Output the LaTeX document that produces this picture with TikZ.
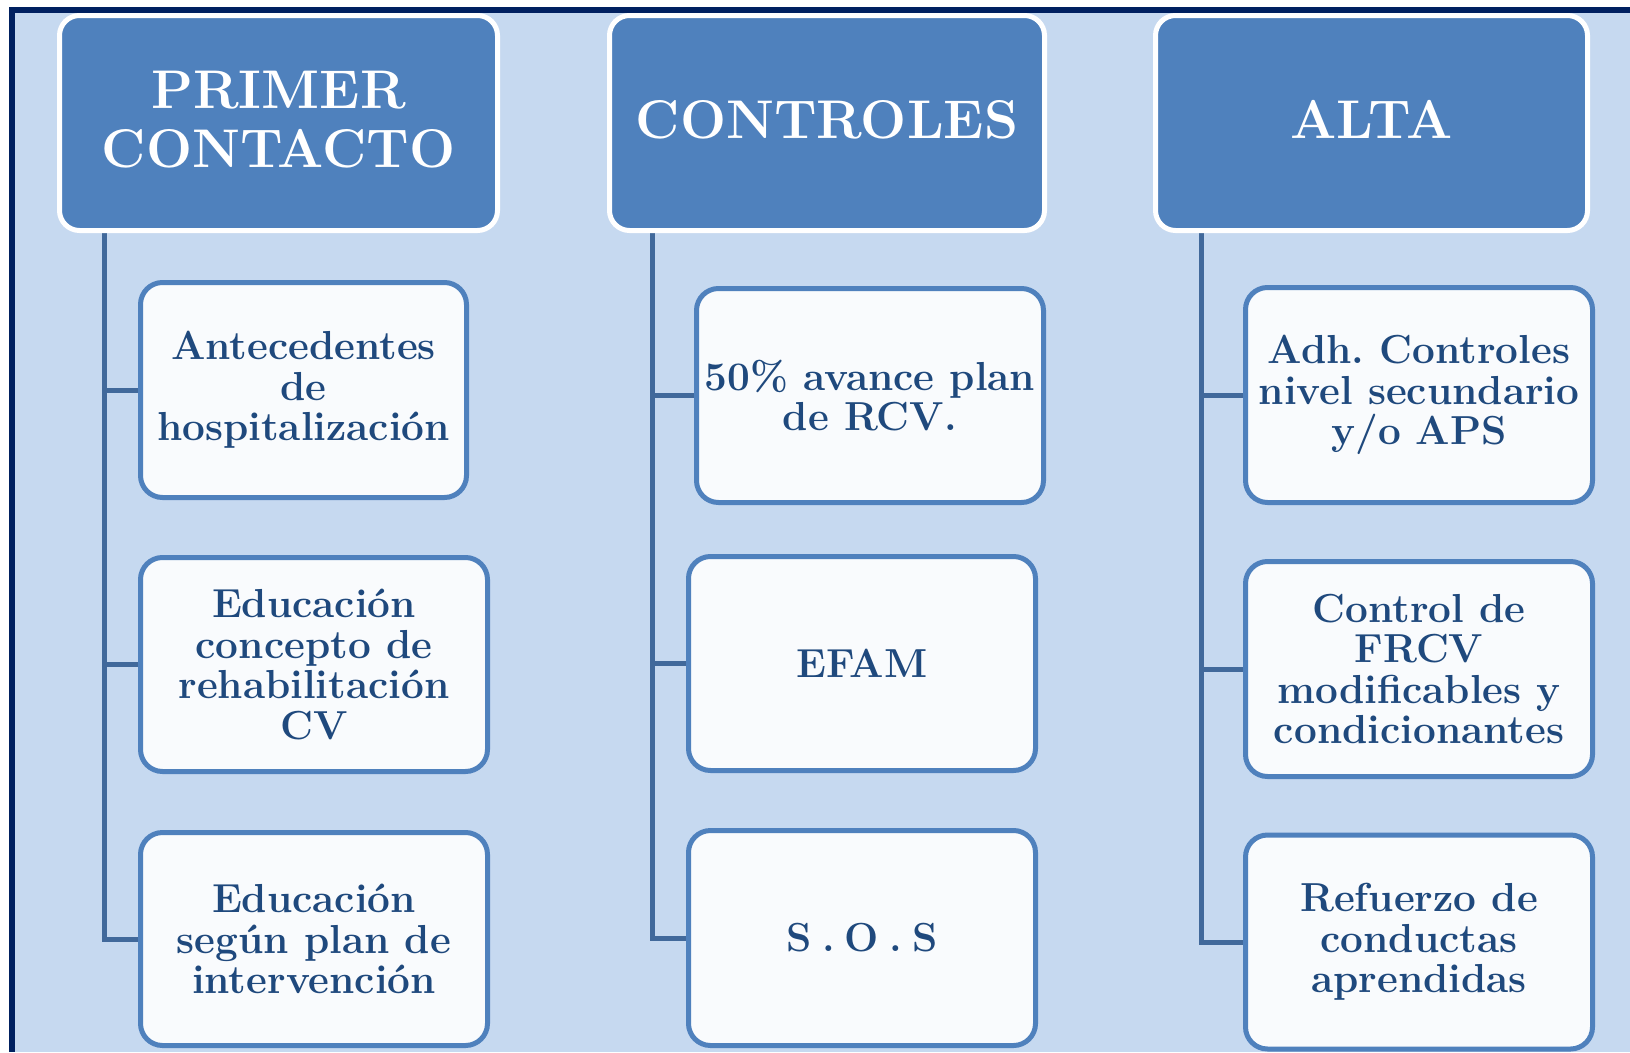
\documentclass[tikz,border=0pt]{standalone}
\usepackage{fontspec}
\usetikzlibrary{backgrounds}
\frenchspacing
\definecolor{bgblue}{HTML}{C6D9F0}
\definecolor{navy}{HTML}{002060}
\definecolor{headfill}{HTML}{4F81BD}
\definecolor{boxfill}{HTML}{F9FBFD}
\definecolor{linkcol}{HTML}{41699B}
\definecolor{txtcol}{HTML}{1F497D}
\newcommand{\sosgap}{\hspace{0.25em}}
\tikzset{
  header/.style={draw=white, line width=5pt, fill=headfill, rounded corners=20pt,
    inner sep=0pt, text=white, align=center, text depth=8pt,
    font=\bfseries\fontsize{54.5}{59}\selectfont},
  childbox/.style={draw=headfill, line width=5pt, fill=boxfill, rounded corners=22pt,
    inner sep=0pt, text=txtcol, align=center, minimum width=347pt, minimum height=214pt,
    font=\bfseries\fontsize{40.5}{40.5}\selectfont},
  link/.style={draw=linkcol, line width=5pt}
}
\begin{document}
\begin{tikzpicture}[x=1pt,y=-1pt]
\useasboundingbox (0,0) rectangle (1630,1052);
% headers
\node[header, minimum width=438pt, minimum height=215pt] (h1) at (278.5,123) {PRIMER\\CONTACTO};
\node[header, minimum width=435pt, minimum height=215pt] (h2) at (827,123) {CONTROLES};
\node[header, minimum width=432pt, minimum height=215pt] (h3) at (1371.5,123) {ALTA};
% column 1
\node[childbox, minimum width=326pt, minimum height=215pt] (c1a) at (303.5,390) {Antecedentes\\de\\hospitalización};
\node[childbox] (c1b) at (314,664.5) {Educación\\concepto de\\rehabilitación\\CV};
\node[childbox, minimum height=213pt] (c1c) at (314,939) {Educación\\según plan de\\intervención};
% column 2
\node[childbox] (c2a) at (870,395.5) {50\% avance plan\\de RCV.};
\node[childbox] (c2b) at (862,663.5) {EFAM};
\node[childbox, minimum height=215pt] (c2c) at (862,938) {S\sosgap.\sosgap O\sosgap.\sosgap S};
% column 3
\node[childbox, minimum height=215pt] (c3a) at (1419,395) {Adh. Controles\\nivel secundario\\y/o APS};
\node[childbox, minimum height=215pt] (c3b) at (1419,669) {Control de\\FRCV\\modificables y\\condicionantes};
\node[childbox] (c3c) at (1419,942) {Refuerzo de\\conductas\\aprendidas};
% trunk starts
\coordinate (t1) at (104,232);
\coordinate (t2) at (652,232);
\coordinate (t3) at (1201,232);
\begin{scope}[on background layer]
  \fill[white] (0,0) rectangle (1630,1052);
  \fill[bgblue] (12,10) rectangle (1630,1052);
  \draw[navy, line width=6pt] (9,10) -- (1630,10);
  \draw[navy, line width=6pt] (12,7) -- (12,1052);
  \draw[link] (t1) |- (c1c.west);
  \draw[link] (t1 |- c1a.west) -- (c1a.west);
  \draw[link] (t1 |- c1b.west) -- (c1b.west);
  \draw[link] (t2) |- (c2c.west);
  \draw[link] (t2 |- c2a.west) -- (c2a.west);
  \draw[link] (t2 |- c2b.west) -- (c2b.west);
  \draw[link] (t3) |- (c3c.west);
  \draw[link] (t3 |- c3a.west) -- (c3a.west);
  \draw[link] (t3 |- c3b.west) -- (c3b.west);
\end{scope}
\end{tikzpicture}
\end{document}
